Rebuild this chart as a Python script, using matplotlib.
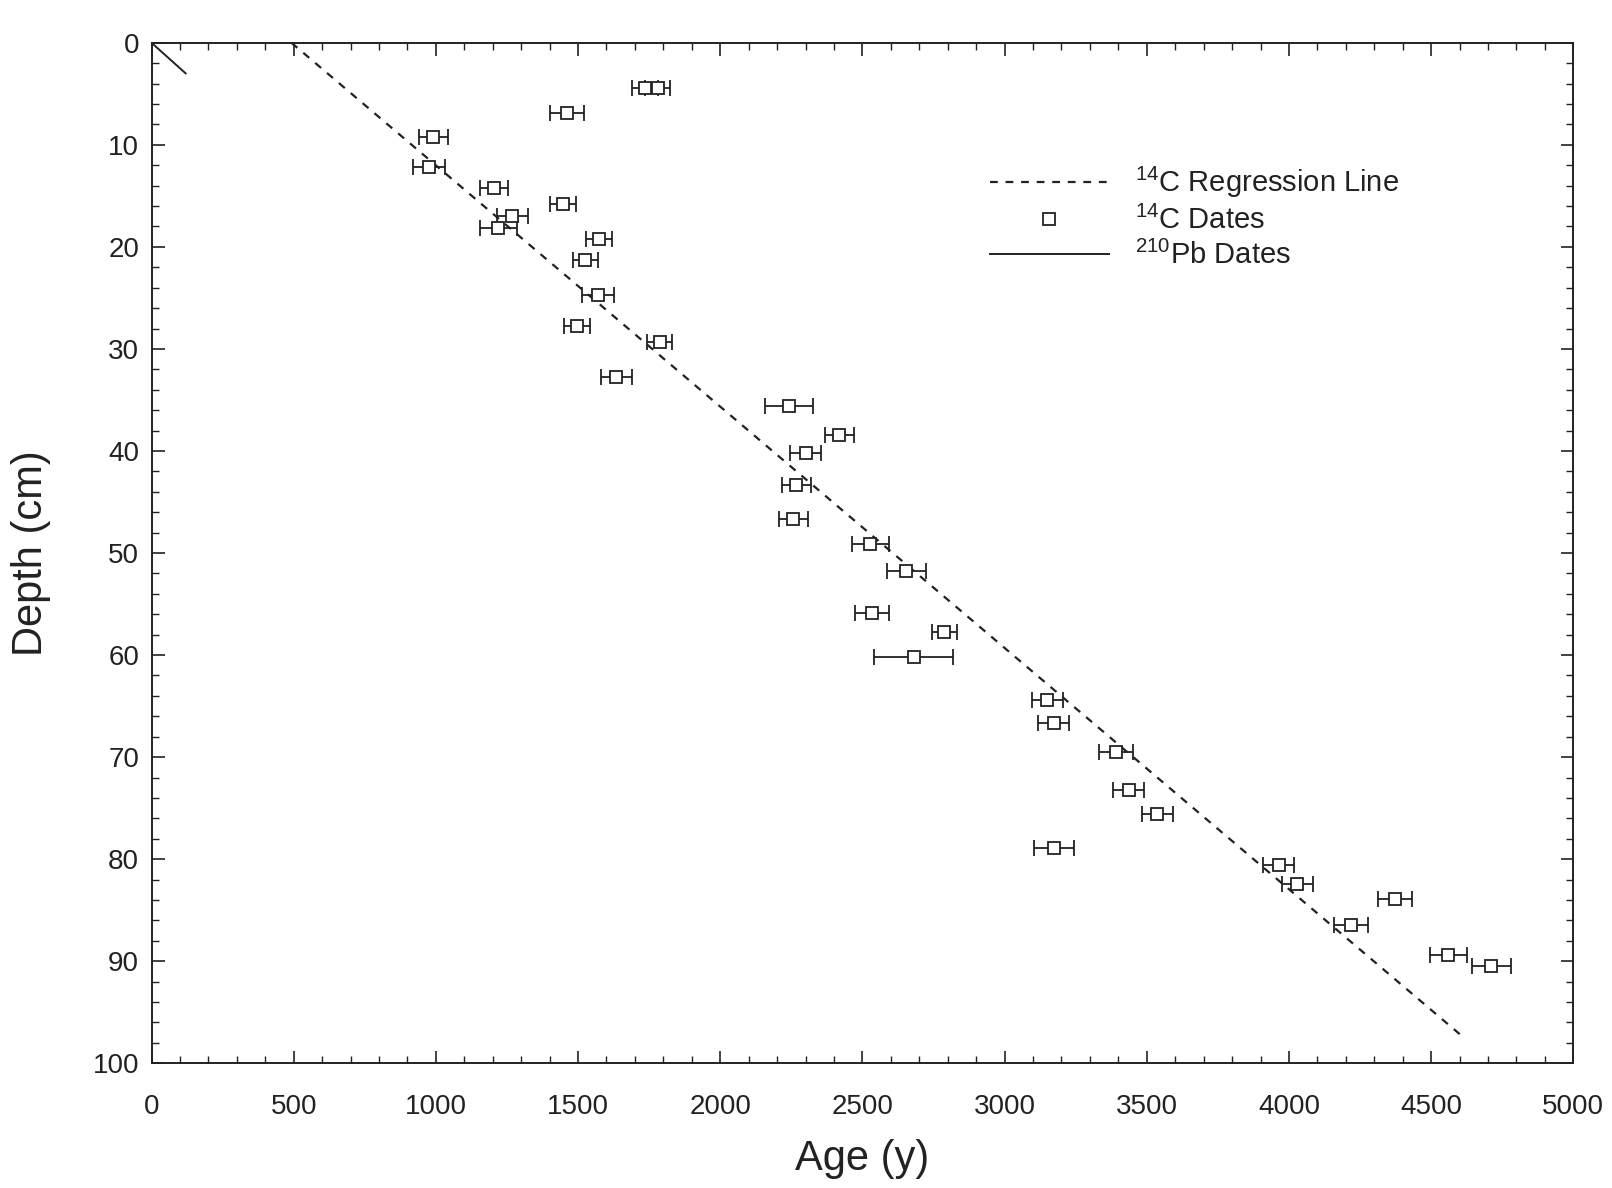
# age-depth plot, 14C and 210Pb dates

import matplotlib
matplotlib.use('Agg')
import matplotlib.pyplot as plt
from matplotlib.lines import Line2D
from matplotlib.ticker import MultipleLocator

plt.rcParams['font.family'] = ['Liberation Sans', 'DejaVu Sans']
plt.rcParams['mathtext.default'] = 'regular'

# 14C dates: age (y), depth (cm), half width of error bar (y)
c14_age = [1735, 1780, 1461, 991, 976, 1204, 1447, 1269, 1219, 1573, 1526,
           1570, 1497, 1787, 1635, 2242, 2419, 2300, 2268, 2257, 2528, 2655,
           2535, 2788, 2680, 3150, 3172, 3392, 3436, 3537, 3175, 3964, 4029,
           4217, 4373, 4561, 4712]
c14_depth = [4.4, 4.4, 6.9, 9.2, 12.2, 14.2, 15.8, 17.0, 18.2, 19.2, 21.3,
             24.7, 27.8, 29.3, 32.8, 35.6, 38.4, 40.2, 43.3, 46.7, 49.1, 51.8,
             55.9, 57.7, 60.2, 64.4, 66.7, 69.5, 73.2, 75.6, 78.9, 80.6, 82.4,
             86.5, 83.9, 89.4, 90.5]
c14_err = [45, 45, 60, 50, 55, 50, 45, 55, 65, 45, 45, 55, 45, 45, 55, 85, 50,
           55, 50, 50, 65, 70, 60, 45, 140, 55, 55, 60, 55, 55, 70, 55, 55, 60,
           60, 65, 70]

# regression line and 210Pb line
reg_age = [492, 4607]
reg_depth = [0, 97.3]
pb_age = [0, 120]
pb_depth = [0, 3.0]

fig = plt.figure(figsize=(16.12, 11.88), dpi=100)
ax = fig.add_axes([0.094, 0.105, 0.882, 0.859])

ax.plot(reg_age, reg_depth, color='#222222', lw=1.6, dashes=(3.5, 3.5))
ax.plot(pb_age, pb_depth, color='#222222', lw=1.4)
ax.errorbar(c14_age, c14_depth, xerr=c14_err, fmt='s', mfc='white',
            mec='#222222', ms=9, mew=1.3, ecolor='#222222', elinewidth=1.3,
            capsize=6, capthick=1.3)

ax.set_xlim(0, 5000)
ax.set_ylim(100, 0)
ax.xaxis.set_major_locator(MultipleLocator(500))
ax.xaxis.set_minor_locator(MultipleLocator(100))
ax.yaxis.set_major_locator(MultipleLocator(10))
ax.yaxis.set_minor_locator(MultipleLocator(2))
ax.tick_params(which='both', direction='in', top=True, right=True,
               color='#222222', labelcolor='#222222')
ax.tick_params(which='major', length=9, width=1.2)
ax.tick_params(which='minor', length=5, width=1.0)
ax.tick_params(axis='x', which='major', pad=22, labelsize=20)
ax.tick_params(axis='y', which='major', pad=9, labelsize=20)
for s in ax.spines.values():
    s.set_linewidth(1.4)
    s.set_color('#222222')

ax.set_xlabel('Age (y)', fontsize=30, labelpad=14, color='#222222')
ax.set_ylabel('Depth (cm)', fontsize=30, labelpad=30, color='#222222')

handles = [Line2D([], [], color='#222222', lw=1.6, dashes=(3.5, 3.5)),
           Line2D([], [], ls='none', marker='s', mfc='white', mec='#222222',
                  ms=9, mew=1.3),
           Line2D([], [], color='#222222', lw=1.4)]
labels = [r'$^{14}$C Regression Line', r'$^{14}$C Dates', r'$^{210}$Pb Dates']
ax.legend(handles, labels, loc='upper left', bbox_to_anchor=(0.571, 0.906),
          frameon=False, fontsize=21, handlelength=4.1, handletextpad=0.9,
          labelspacing=0.2, labelcolor='#222222')

fig.savefig('out.png', dpi=100)
